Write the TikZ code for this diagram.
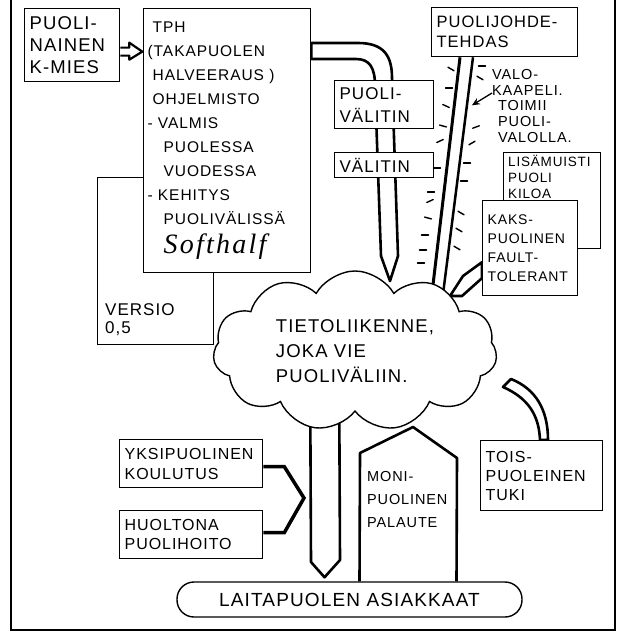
\documentclass[tikz,border=0pt]{standalone}
\usepackage{fontspec}
\setmainfont{Liberation Sans}[LetterSpace=6]
\newfontfamily\signfont{Liberation Serif}[LetterSpace=8]
\usetikzlibrary{shapes.symbols,calc,arrows.meta,backgrounds}
\hyphenpenalty=10000
\exhyphenpenalty=10000

\newcommand{\fsz}[2]{\fontsize{#1}{#2}\selectfont}

\tikzset{
	box/.style={draw, line width=1.3pt, fill=white, anchor=north west, align=left, inner xsep=5pt, inner ysep=0pt},
	txt/.style={anchor=north west, align=left, inner sep=0pt},
	pipe/.style={draw, line width=2.6pt, fill=white, line join=round},
	ray/.style={line width=1.4pt, line cap=round},
	link/.style={line width=3.5pt, line join=miter},
}

\begin{document}
\begin{tikzpicture}[x=1pt,y=-1pt]
	\useasboundingbox (0,0) rectangle (623,634);
	\draw[line width=2.6pt] (11,0) -- (11,630);
	\draw[line width=1.8pt] (10,630) -- (615,630) -- (615,0);

	% left column
	\node[box, minimum width=116pt, minimum height=167pt] (versio) at (97,177) {};
	\node[txt, anchor=south west, font=\fsz{17}{18}] (versiotxt) at ($(versio.south west)+(8,-9)$) {VERSIO\\0,5};
	\node[box, text width=159pt, minimum height=264pt, inner xsep=4pt, font=\fsz{15.5}{24}] (tph) at (143,8)
		{\hspace*{5pt}TPH\\(TAKAPUOLEN\\\hspace*{5pt}HALVEERAUS )\\\hspace*{5pt}OHJELMISTO\\- VALMIS\\
		\hspace*{16pt}PUOLESSA\\\hspace*{16pt}VUODESSA\\- KEHITYS\\\hspace*{16pt}PUOLIVÄLISSÄ\\[5pt]
		\hspace*{16pt}{\signfont\itshape\fsz{28}{30}Softhalf}};
	\node[box, text width=85pt, minimum height=73pt, font=\fsz{18.5}{22}] (kmies) at (24,8) {PUOLI-\\NAINEN\\K-MIES};
	\draw[pipe, line width=2.2pt] ($(kmies.east)+(0,2.5)$) -- ++(9,0) -- ++(0,-5) -- ++(13,9) -- ++(-13,8) -- ++(0,-4) -- ++(-9,0);

	% right column
	\node[box, text width=136pt, minimum height=49pt, font=\fsz{16.5}{20}] (johde) at (431,7) {PUOLIJOHDE-\\TEHDAS};
	\node[box, minimum width=97pt, minimum height=96pt] (lisa) at (503,152) {};
	\node[txt, font=\fsz{13.5}{16}] (lisatxt) at ($(lisa.north west)+(5,3)$) {LISÄMUISTI\\PUOLI\\KILOA};
	\node[box, text width=85pt, minimum height=95pt, font=\fsz{14}{19}] (kaks) at (482,200) {KAKS-\\PUOLINEN\\FAULT-\\TOLERANT};
	\node[txt, font=\fsz{14.5}{15.8}] (valo) at (492,69)
		{VALO-\\KAAPELI.\\\hspace*{6pt}TOIMII\\\hspace*{6pt}PUOLI-\\\hspace*{6pt}VALOLLA.};

	% middle
	\node[box, text width=89pt, minimum height=48pt, font=\fsz{17}{23}] (pvalitin) at (334,80) {PUOLI-\\VÄLITIN};
	\node[box, text width=89pt, minimum height=25pt, font=\fsz{17}{18}] (valitin) at (334,152) {VÄLITIN};
	\node[cloud, draw, fill=white, line width=1.4pt, cloud puffs=11, cloud puff arc=120, cloud ignores aspect,
		minimum width=284pt, minimum height=160pt, inner sep=0pt, align=left, font=\fsz{18.5}{25}] (cloud) at (355,351)
		{TIETOLIIKENNE,\\JOKA VIE\\PUOLIVÄLIIN.};

	% bottom
	\node[box, text width=133pt, minimum height=48pt, font=\fsz{16}{20}] (yksi) at (119,439) {YKSIPUOLINEN\\KOULUTUS};
	\node[box, text width=133pt, minimum height=48pt, font=\fsz{16}{19}] (huolto) at (119,510) {HUOLTONA\\PUOLIHOITO};
	\node[box, text width=112pt, minimum height=70pt, font=\fsz{16}{19}] (tois) at (480,440) {TOIS-\\PUOLEINEN\\TUKI};
	\node[draw, line width=1.4pt, fill=white, rounded corners=17pt, minimum width=345pt, minimum height=35pt,
		inner sep=0pt, font=\fsz{19}{20}] (asiakkaat) at (349.5,599.5) {LAITAPUOLEN ASIAKKAAT};
	\node[txt, font=\fsz{14.5}{23}] (moni) at (367,471) {MONI-\\PUOLINEN\\PALAUTE};

	\begin{scope}[on background layer]
		\draw[pipe] ($(tph.north east)+(0,35)$) -- (358,43) .. controls (384,43) and (392,56) .. (392,78) -- (398,256)
			-- (390,281) -- (381,256) -- (375,86) .. controls (375,68) and (370,59) .. (356,59) -- ($(tph.north east)+(0,51)$) -- cycle;
		\coordinate (cl1) at ($(johde.south west)+(29,0)$);
		\coordinate (cr1) at ($(johde.south west)+(42,0)$);
		\coordinate (cl2) at (430,310);
		\coordinate (cr2) at (441,310);
		\draw[line width=3pt] (cl1) -- (cl2);
		\draw[line width=2.5pt] (cr1) -- (cr2);
		\draw[pipe] ($(kaks.west)+(0,14)$) -- (463,276) -- (450,296) -- (462,296) -- ($(kaks.west)+(0,30)$) -- cycle;
		\draw[pipe] ($(cloud.center)+(-45,0)$) -- (311,562) -- ($(asiakkaat.north)+(-25,-4)$) -- (340,560)
			-- ($(cloud.center)+(-16,0)$) -- cycle;
		\draw[pipe] ($(asiakkaat.north)+(10,0)$) -- (360,453) -- (413,427) -- (457,458) -- ($(asiakkaat.north)+(107,0)$);
		\draw[pipe] ($(tois.north west)+(60,0)$) .. controls (539,415) and (528,398) .. (503,387) -- (511,379)
			.. controls (536,389) and (548,410) .. ($(tois.north west)+(68,0)$) -- cycle;
	\end{scope}

	\foreach \x/\y/\a in {451/69/30, 449/88/0, 446/106/25, 443/126/15, 440/141/-25, 437/168/0, 431/192/0,
		430/201/-25, 428/218/15, 425/235/0, 423/250/0, 421/263/0, 482/66/0, 480/78/30, 476/127/-20,
		472/143/-30, 467/163/0, 464/181/0, 461/213/30, 459/230/30, 457/248/30}
		\draw[ray] (\x,\y) ++(\a+180:3.5) -- ++(\a:7);
	\draw[-{Stealth[length=8pt,width=7pt]}, line width=1.3pt] ($(valo.north west)+(0,24)$) -- ($(cr1)!0.19!(cr2)+(5,0)$);
	\draw[link] ($(yksi.east)+(0,3)$) -- ++(21,0) -- (304,498) -- ($(huolto.east)+(21,-2)$) -- ++(-21,0);
\end{tikzpicture}
\end{document}
